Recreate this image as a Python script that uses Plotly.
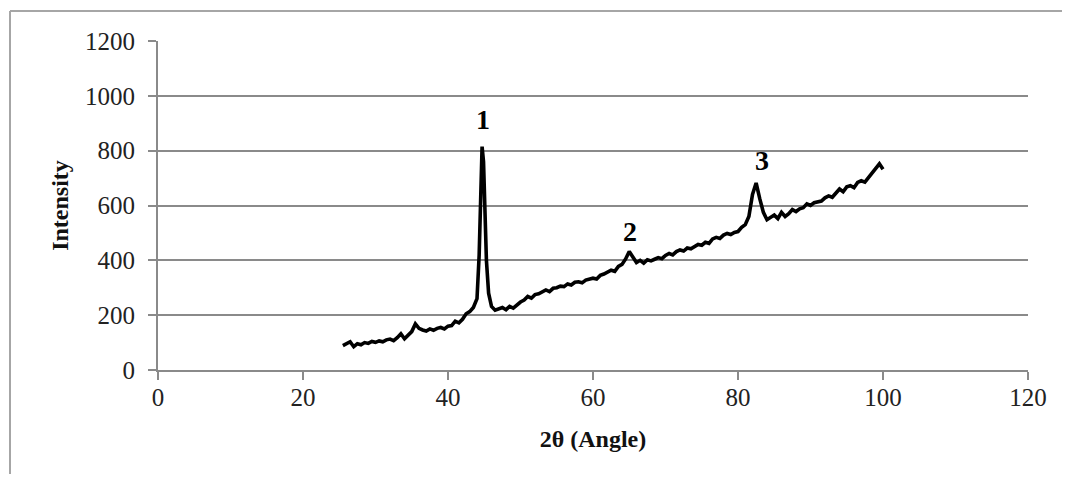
import plotly.graph_objects as go

# 2-theta (degrees)
two_theta = [25.5, 26.0, 26.5, 27.0, 27.5, 28.0, 28.5, 29.0, 29.5, 30.0,
             30.5, 31.0, 31.5, 32.0, 32.5, 33.0, 33.5, 34.0, 34.5, 35.0,
             35.5, 36.0, 36.5, 37.0, 37.5, 38.0, 38.5, 39.0, 39.5, 40.0,
             40.5, 41.0, 41.5, 42.0, 42.5, 43.0, 43.5, 44.0, 44.3, 44.5,
             44.7, 44.9, 45.1, 45.3, 45.6, 46.0, 46.5, 47.0, 47.5, 48.0,
             48.5, 49.0, 49.5, 50.0, 50.5, 51.0, 51.5, 52.0, 52.5, 53.0,
             53.5, 54.0, 54.5, 55.0, 55.5, 56.0, 56.5, 57.0, 57.5, 58.0,
             58.5, 59.0, 59.5, 60.0, 60.5, 61.0, 61.5, 62.0, 62.5, 63.0,
             63.5, 64.0, 64.5, 65.0, 65.5, 66.0, 66.5, 67.0, 67.5, 68.0,
             68.5, 69.0, 69.5, 70.0, 70.5, 71.0, 71.5, 72.0, 72.5, 73.0,
             73.5, 74.0, 74.5, 75.0, 75.5, 76.0, 76.5, 77.0, 77.5, 78.0,
             78.5, 79.0, 79.5, 80.0, 80.5, 81.0, 81.5, 82.0, 82.5, 83.0,
             83.5, 84.0, 84.5, 85.0, 85.5, 86.0, 86.5, 87.0, 87.5, 88.0,
             88.5, 89.0, 89.5, 90.0, 90.5, 91.0, 91.5, 92.0, 92.5, 93.0,
             93.5, 94.0, 94.5, 95.0, 95.5, 96.0, 96.5, 97.0, 97.5, 98.0,
             98.5, 99.0, 99.5, 100.0]

intensity = [89, 95, 103, 85, 96, 92, 100, 97, 104, 101,
             106, 103, 110, 113, 107, 118, 132, 114, 125, 140,
             168, 152, 146, 142, 150, 145, 152, 155, 150, 160,
             162, 178, 172, 185, 205, 213, 228, 260, 420, 680,
             815, 760, 560, 400, 280, 232, 218, 222, 228, 220,
             232, 226, 238, 248, 255, 268, 262, 275, 278, 285,
             292, 286, 298, 300, 306, 304, 314, 310, 320, 322,
             318, 328, 330, 335, 332, 345, 350, 356, 364, 360,
             378, 385, 405, 432, 410, 392, 400, 390, 402, 398,
             404, 410, 406, 418, 425, 420, 432, 438, 434, 445,
             442, 452, 458, 455, 466, 462, 478, 484, 480, 492,
             498, 494, 502, 505, 520, 530, 560, 640, 682, 625,
             575, 548, 558, 565, 552, 575, 560, 570, 585, 578,
             588, 592, 606, 600, 610, 612, 616, 628, 635, 630,
             645, 660, 650, 668, 672, 665, 684, 690, 685, 702,
             718, 740, 752, 732]

peak_labels = ["1", "2", "3"]
peak_x = [44.8, 65.1, 83.3]
peak_y = [915, 505, 765]

x_ticks = [0, 20, 40, 60, 80, 100, 120]
y_ticks = [0, 200, 400, 600, 800, 1000, 1200]

# page body adds an 8px margin on every side; keep the figure inside the window
OFF = 8
W, H = 1070 - 2 * OFF, 482 - 2 * OFF
ML, MT = 158 - OFF, 41 - OFF
pw, ph = 870, 329
MR, MB = W - ML - pw, H - MT - ph

GRID = "#8a8a8a"
FONT = "Liberation Serif, Times New Roman, serif"

fig = go.Figure()
fig.add_trace(go.Scatter(
    x=two_theta, y=intensity, mode="lines",
    line=dict(color="black", width=3.6), showlegend=False,
))

for t, px, py in zip(peak_labels, peak_x, peak_y):
    fig.add_annotation(x=px, y=py, text=f"<b>{t}</b>", showarrow=False,
                       font=dict(family=FONT, size=28, color="black"))

# outer chart border: only top and left edges are visible in the window
bx0, by0 = 10 - OFF, 11 - OFF
px_left = (bx0 - ML) / pw
px_right = (W + 40 - ML) / pw
py_top = (MT + ph - by0) / ph
py_bottom = -(H + 40 - (MT + ph)) / ph
BORDER = dict(color="#a6a6a6", width=2)
fig.add_shape(type="line", xref="paper", yref="paper",
              x0=px_left, x1=px_right, y0=py_top, y1=py_top, line=BORDER)
fig.add_shape(type="line", xref="paper", yref="paper",
              x0=px_left, x1=px_left, y0=py_bottom, y1=py_top, line=BORDER)

fig.update_layout(
    width=W, height=H,
    margin=dict(l=ML, r=MR, t=MT, b=MB, autoexpand=False),
    paper_bgcolor="white", plot_bgcolor="white",
    font=dict(family=FONT, size=25, color="#222222"),
    xaxis=dict(
        range=[0, 120], tickvals=x_ticks, showgrid=False, zeroline=False,
        showline=True, linecolor=GRID, linewidth=2, automargin=False,
        ticks="outside", ticklen=8, tickwidth=2, tickcolor=GRID,
        tickfont=dict(size=25), ticklabelstandoff=-4,
        title=dict(text="<b>2θ (Angle)</b>", font=dict(size=24, color="#111111"),
                   standoff=20),
    ),
    yaxis=dict(
        range=[0, 1200], tickvals=y_ticks, showgrid=True, gridcolor=GRID,
        gridwidth=2, zeroline=False, automargin=False,
        showline=True, linecolor=GRID, linewidth=2,
        ticks="outside", ticklen=8, tickwidth=2, tickcolor=GRID,
        tickfont=dict(size=25), ticklabelstandoff=8,
        title=dict(text="<b>Intensity</b>", font=dict(size=24, color="#111111"),
                   standoff=10),
    ),
)

fig.write_html("out.html")
